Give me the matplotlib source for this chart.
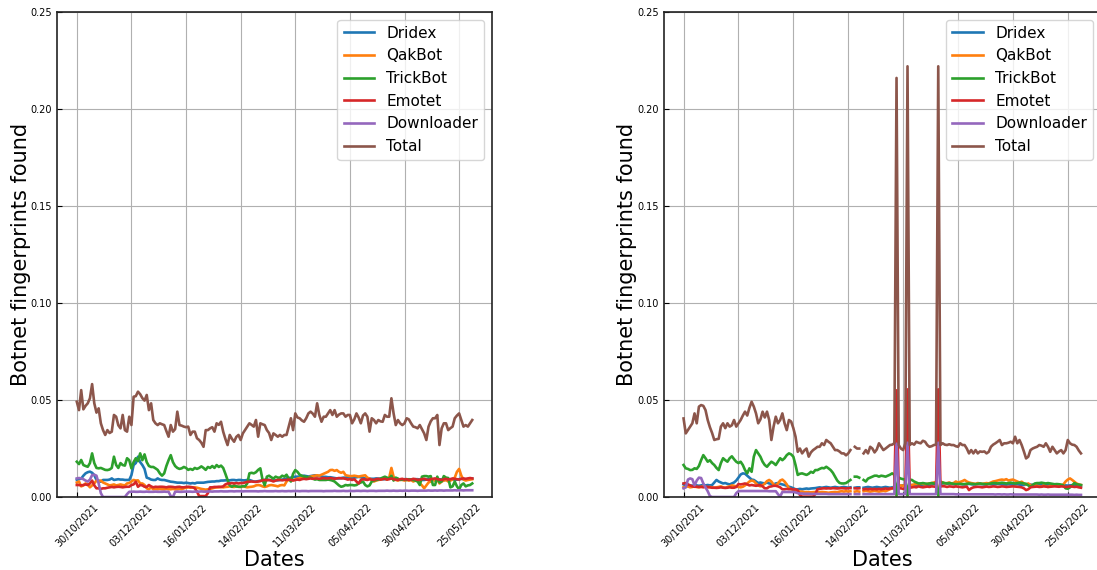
import numpy as np
import matplotlib
matplotlib.use('Agg')
import matplotlib.pyplot as plt

# ── Data: fraction of samples carrying each botnet fingerprint (units of 1e-4) ──
tick_labels = ['30/10/2021', '03/12/2021', '16/01/2022', '14/02/2022',
               '11/03/2022', '05/04/2022', '30/04/2022', '25/05/2022']
names = ['Dridex', 'QakBot', 'TrickBot', 'Emotet', 'Downloader', 'Total']

# left panel
left_dridex = [
    90, 92, 95, 110, 122, 128, 131, 125, 113, 88,
    85, 79, 88, 88, 88, 90, 96, 88, 90, 92,
    90, 90, 88, 88, 88, 113, 165, 175, 208, 180,
    165, 145, 100, 96, 90, 88, 88, 96, 90, 88,
    88, 85, 82, 79, 78, 76, 74, 74, 74, 72,
    74, 72, 70, 72, 70, 74, 74, 74, 74, 76,
    78, 79, 80, 80, 82, 82, 85, 85, 86, 86,
    86, 88, 88, 86, 88, 88, 86, 86, 88, 88,
    84, 80, 80, 82, 84, 86, 88, 90, 88, 86,
    85, 86, 86, 88, 90, 92, 96, 98, 100, 102,
    105, 105, 105, 108, 110, 108, 106, 108, 110, 112,
    110, 108, 106, 104, 104, 102, 102, 100, 98, 96,
    96, 98, 100, 100, 102, 100, 98, 100, 102, 104,
    102, 98, 96, 96, 95, 94, 94, 96, 95, 94,
    92, 92, 94, 95, 96, 94, 92, 92, 90, 90,
    92, 92, 90, 88, 90, 92, 92, 90, 88, 88,
    90, 92, 92, 90, 88, 90, 92, 90, 88, 88,
    90, 92, 90, 88, 90, 92, 94, 92, 90, 92,
    94, 95]
left_qakbot = [
    75, 80, 55, 60, 70, 65, 50, 60, 70, 85,
    80, 85, 75, 70, 65, 60, 62, 65, 60, 62,
    65, 62, 60, 70, 72, 80, 88, 85, 86, 70,
    70, 62, 45, 40, 50, 40, 42, 40, 42, 40,
    40, 42, 40, 40, 42, 40, 40, 42, 40, 45,
    48, 50, 48, 50, 50, 48, 45, 42, 40, 38,
    40, 42, 45, 48, 50, 50, 52, 50, 52, 53,
    55, 53, 52, 55, 53, 52, 55, 53, 50, 52,
    53, 55, 60, 62, 60, 55, 52, 55, 60, 62,
    60, 58, 55, 60, 62, 60, 80, 90, 88, 85,
    90, 95, 98, 100, 98, 100, 102, 105, 108, 110,
    112, 110, 115, 120, 125, 130, 139, 140, 135, 139,
    130, 125, 130, 113, 110, 108, 108, 110, 108, 105,
    108, 110, 112, 100, 95, 88, 80, 85, 88, 90,
    95, 96, 90, 100, 150, 105, 88, 85, 90, 88,
    85, 88, 85, 88, 80, 85, 88, 70, 60, 45,
    60, 75, 80, 88, 85, 90, 70, 80, 85, 88,
    80, 85, 90, 100, 130, 145, 110, 90, 85, 88,
    90, 92]
left_trickbot = [
    182, 170, 191, 165, 160, 156, 175, 225, 175, 150,
    148, 150, 145, 140, 139, 142, 150, 208, 165, 150,
    175, 165, 162, 200, 190, 148, 180, 200, 185, 225,
    190, 220, 180, 160, 155, 155, 148, 140, 122, 110,
    122, 160, 190, 216, 180, 160, 150, 145, 148, 155,
    150, 140, 145, 140, 150, 145, 150, 158, 150, 140,
    155, 150, 160, 150, 165, 155, 162, 150, 120, 88,
    60, 53, 60, 55, 53, 53, 56, 55, 70, 122,
    125, 122, 128, 140, 148, 90, 60, 105, 110, 102,
    95, 105, 100, 100, 110, 105, 115, 95, 80, 120,
    139, 130, 115, 110, 105, 105, 100, 100, 95, 90,
    92, 88, 88, 88, 88, 90, 88, 85, 80, 70,
    60, 53, 56, 62, 60, 62, 62, 60, 62, 70,
    75, 80, 62, 55, 60, 80, 85, 88, 90, 95,
    100, 105, 100, 95, 110, 85, 100, 95, 88, 90,
    90, 88, 92, 90, 88, 85, 80, 62, 105, 108,
    108, 105, 108, 62, 62, 105, 75, 80, 108, 100,
    98, 50, 55, 80, 55, 40, 62, 70, 55, 60,
    62, 70]
left_emotet = [
    62, 62, 60, 62, 65, 62, 70, 85, 60, 45,
    45, 42, 45, 45, 48, 50, 52, 50, 52, 53,
    52, 50, 52, 53, 53, 62, 65, 79, 53, 62,
    60, 53, 52, 62, 55, 50, 53, 52, 53, 53,
    52, 50, 53, 53, 52, 50, 52, 53, 50, 50,
    52, 53, 52, 50, 45, 28, 5, 5, 5, 5,
    20, 50, 50, 52, 52, 53, 52, 55, 65, 70,
    70, 72, 70, 72, 70, 72, 72, 75, 78, 79,
    80, 79, 78, 80, 82, 86, 88, 86, 88, 85,
    80, 85, 88, 88, 86, 88, 88, 90, 88, 86,
    88, 90, 88, 92, 94, 92, 94, 96, 94, 96,
    96, 94, 96, 98, 96, 96, 98, 96, 94, 96,
    98, 96, 96, 94, 90, 92, 88, 92, 80, 70,
    88, 92, 90, 88, 92, 90, 88, 92, 94, 90,
    92, 94, 90, 92, 96, 92, 90, 88, 92, 94,
    90, 92, 88, 90, 94, 92, 88, 90, 92, 94,
    90, 88, 92, 94, 96, 92, 90, 88, 92, 94,
    90, 92, 96, 94, 92, 90, 94, 96, 94, 96,
    98, 96]
left_downloader = [
    96, 98, 96, 92, 85, 80, 90, 113, 115, 110,
    70, 20, 0, 0, 0, 0, 0, 0, 0, 0,
    0, 0, 0, 15, 27, 27, 28, 27, 27, 28,
    27, 27, 28, 27, 27, 27, 28, 27, 27, 27,
    28, 27, 27, 5, 0, 27, 28, 27, 27, 28,
    28, 28, 28, 27, 28, 28, 28, 29, 28, 28,
    29, 29, 28, 29, 29, 29, 30, 29, 29, 29,
    30, 30, 29, 30, 30, 30, 29, 30, 30, 30,
    30, 30, 30, 29, 30, 30, 31, 30, 30, 30,
    30, 31, 30, 30, 31, 30, 30, 31, 30, 31,
    31, 31, 30, 31, 31, 31, 30, 31, 31, 31,
    31, 31, 31, 30, 31, 31, 31, 31, 32, 31,
    31, 31, 32, 31, 31, 32, 31, 31, 32, 32,
    31, 32, 32, 31, 32, 32, 32, 31, 32, 32,
    32, 32, 33, 32, 32, 33, 32, 32, 33, 32,
    33, 33, 32, 33, 33, 33, 32, 33, 33, 33,
    33, 34, 33, 33, 34, 33, 34, 34, 33, 34,
    34, 34, 34, 35, 34, 35, 35, 34, 35, 35,
    35, 35]
left_total = [
    491, 448, 551, 452, 470, 483, 509, 582, 483, 435,
    457, 380, 345, 320, 345, 330, 337, 423, 414, 370,
    354, 423, 345, 337, 414, 371, 517, 520, 543, 530,
    510, 497, 526, 448, 483, 397, 380, 371, 380, 375,
    371, 340, 311, 371, 337, 350, 440, 371, 368, 363,
    360, 363, 320, 337, 337, 303, 294, 280, 259, 345,
    345, 354, 360, 337, 380, 372, 388, 337, 300, 268,
    320, 300, 285, 310, 320, 294, 328, 345, 363, 380,
    372, 363, 397, 311, 380, 375, 371, 345, 330, 294,
    328, 320, 311, 320, 311, 320, 320, 363, 406, 345,
    431, 410, 406, 395, 388, 406, 431, 440, 430, 414,
    483, 423, 388, 414, 414, 431, 448, 423, 448, 414,
    425, 431, 431, 414, 423, 423, 380, 400, 431, 410,
    380, 420, 431, 414, 337, 406, 397, 380, 397, 390,
    388, 423, 414, 414, 509, 431, 371, 397, 380, 371,
    380, 406, 400, 380, 363, 360, 354, 371, 350, 328,
    294, 363, 390, 406, 406, 423, 268, 354, 380, 380,
    345, 355, 363, 406, 420, 431, 397, 363, 371, 363,
    380, 397]

# right panel (None = no sample that day)
right_dridex = [
    65, 60, 62, 60, 58, 62, 60, 58, 60, 62,
    60, 62, 60, 62, 75, 88, 80, 75, 70, 72,
    68, 65, 70, 75, 85, 100, 116, 122, 120, 110,
    100, 90, 88, 80, 72, 75, 72, 70, 75, 70,
    68, 65, 70, 72, 68, 65, 62, 58, 53, 50,
    45, 40, 40, 42, 40, 42, 44, 42, 44, 45,
    46, 48, 50, 48, 50, 52, 50, 48, 50, 52,
    50, 48, 50, 52, 50, 48, 50, None, 48, 50,
    50, None, 48, 50, 52, 50, 48, 50, 52, 50,
    48, 50, 52, 50, 48, 50, 52, 10, 55, 58,
    60, 58, 10, 60, 62, 60, 58, 60, 62, 64,
    62, 60, 62, 65, 68, 66, 10, 68, 70, 70,
    68, 70, 68, 66, 68, 70, 68, 66, 65, 66,
    68, 66, 65, 66, 68, 67, 66, 65, 66, 68,
    66, 65, 66, 68, 67, 66, 65, 64, 66, 65,
    64, 65, 66, 64, 63, 62, 64, 65, 64, 63,
    62, 63, 64, 62, 61, 62, 63, 62, 61, 60,
    61, 62, 60, 61, 60, 59, 60, 61, 60, 60,
    59, 58]
right_qakbot = [
    50, 52, 55, 50, 52, 55, 52, 50, 52, 55,
    53, 50, 52, 50, 48, 50, 52, 55, 50, 48,
    52, 55, 60, 58, 55, 52, 50, 53, 60, 70,
    80, 85, 82, 70, 60, 55, 60, 70, 82, 88,
    80, 65, 60, 70, 85, 90, 80, 65, 45, 40,
    36, 32, 30, 28, 28, 25, 26, 25, 24, 25,
    26, 25, 24, 26, 25, 24, 22, 24, 25, 26,
    25, 28, 30, 28, 30, 28, 30, None, 28, 30,
    28, None, 30, 32, 30, 28, 30, 32, 30, 28,
    30, 32, 30, 35, 40, 45, 50, 10, 55, 60,
    58, 62, 10, 60, 62, 65, 68, 65, 70, 68,
    65, 68, 70, 72, 75, 78, 10, 80, 75, 70,
    72, 75, 70, 72, 80, 75, 78, 82, 88, 80,
    75, 72, 70, 68, 72, 70, 68, 70, 72, 70,
    75, 80, 82, 85, 88, 90, 88, 92, 85, 88,
    90, 85, 80, 75, 79, 70, 65, 70, 62, 60,
    62, 58, 55, 53, 60, 55, 52, 58, 60, 62,
    65, 62, 60, 65, 80, 90, 96, 88, 79, 70,
    65, 62]
right_trickbot = [
    165, 148, 145, 139, 140, 148, 145, 160, 190, 216,
    200, 182, 190, 175, 165, 150, 139, 175, 200, 190,
    182, 200, 210, 195, 182, 175, 182, 165, 139, 122,
    148, 130, 208, 242, 225, 208, 182, 165, 156, 170,
    182, 175, 165, 182, 200, 190, 200, 216, 225, 220,
    208, 165, 114, 120, 122, 118, 114, 120, 130, 125,
    139, 139, 145, 150, 148, 156, 148, 139, 125, 105,
    85, 73, 70, 70, 72, 80, 88, None, 105, 105,
    100, None, 88, 80, 95, 100, 105, 110, 110, 105,
    110, 108, 105, 110, 115, 122, 115, 10, 100, 95,
    92, 90, 10, 90, 88, 80, 75, 70, 70, 72,
    70, 68, 70, 72, 70, 70, 10, 72, 75, 72,
    70, 72, 70, 68, 66, 67, 68, 66, 67, 68,
    70, 68, 67, 66, 68, 70, 68, 67, 66, 68,
    70, 72, 72, 70, 72, 74, 72, 70, 72, 74,
    72, 70, 72, 74, 72, 70, 68, 60, 53, 62,
    70, 72, 72, 74, 72, 70, 72, 70, 68, 66,
    67, 66, 64, 60, 45, 43, 50, 60, 72, 66,
    64, 62]
right_emotet = [
    70, 72, 65, 60, 55, 53, 53, 52, 53, 50,
    53, 52, 50, 48, 48, 47, 48, 50, 48, 47,
    48, 50, 48, 48, 52, 67, 65, 67, 70, 65,
    60, 62, 60, 58, 60, 62, 55, 45, 45, 53,
    55, 58, 58, 55, 50, 40, 40, 42, 40, 42,
    38, 40, 35, 10, 2, 2, 2, 2, 2, 2,
    15, 40, 42, 44, 45, 44, 45, 44, 46, 45,
    44, 45, 46, 45, 44, 45, 46, None, 45, 44,
    45, None, 40, 42, 40, 42, 40, 42, 40, 42,
    40, 42, 44, 42, 44, 45, 44, 550, 44, 45,
    42, 46, 555, 48, 50, 52, 50, 55, 52, 50,
    52, 54, 52, 55, 54, 52, 555, 54, 56, 55,
    52, 55, 54, 52, 55, 53, 52, 50, 52, 54,
    36, 45, 50, 52, 53, 52, 50, 52, 54, 52,
    53, 55, 54, 52, 53, 55, 54, 52, 53, 54,
    55, 54, 53, 52, 50, 45, 36, 40, 50, 52,
    53, 54, 52, 53, 55, 54, 52, 53, 54, 55,
    54, 53, 55, 54, 52, 53, 55, 54, 52, 53,
    50, 48]
right_downloader = [
    45, 50, 90, 96, 92, 60, 85, 100, 98, 70,
    50, 30, 5, 0, 0, 0, 0, 0, 0, 0,
    0, 0, 0, 0, 20, 30, 31, 31, 31, 31,
    31, 31, 31, 31, 31, 31, 31, 31, 31, 30,
    30, 30, 30, 15, 2, 26, 26, 26, 26, 26,
    26, 24, 20, 18, 18, 17, 17, 17, 16, 16,
    16, 16, 16, 16, 16, 16, 15, 15, 15, 15,
    15, 15, 15, 15, 15, 15, 15, None, 15, 15,
    15, None, 15, 15, 15, 15, 15, 15, 15, 15,
    15, 15, 15, 15, 15, 15, 15, 275, 15, 15,
    15, 15, 280, 15, 15, 15, 15, 15, 15, 15,
    15, 15, 15, 15, 15, 15, 280, 15, 15, 15,
    15, 15, 15, 15, 14, 14, 14, 14, 14, 14,
    14, 14, 14, 14, 14, 14, 14, 14, 14, 14,
    14, 14, 13, 14, 14, 13, 14, 13, 13, 14,
    13, 13, 13, 13, 13, 13, 13, 13, 13, 13,
    13, 13, 12, 13, 12, 12, 13, 12, 12, 12,
    12, 12, 12, 12, 12, 12, 12, 12, 11, 12,
    11, 11]
right_total = [
    405, 328, 345, 363, 380, 431, 380, 466, 474, 470,
    448, 397, 360, 330, 294, 298, 300, 363, 380, 355,
    380, 363, 370, 397, 363, 380, 397, 420, 440, 420,
    460, 491, 466, 431, 380, 400, 440, 410, 440, 397,
    294, 363, 414, 380, 397, 431, 380, 345, 397, 389,
    355, 311, 233, 250, 225, 240, 250, 208, 230, 242,
    250, 259, 259, 277, 268, 294, 285, 277, 259, 242,
    242, 235, 225, 225, 215, 225, 242, None, 259, 250,
    250, None, 225, 242, 225, 259, 250, 230, 245, 277,
    259, 242, 250, 259, 268, 270, 277, 2160, 268, 250,
    242, 277, 2220, 268, 277, 270, 285, 280, 277, 290,
    285, 268, 259, 262, 268, 270, 2220, 268, 277, 270,
    268, 272, 268, 268, 262, 259, 277, 268, 268, 250,
    225, 242, 225, 242, 225, 235, 233, 235, 225, 233,
    259, 270, 277, 285, 294, 268, 277, 277, 280, 285,
    277, 311, 277, 294, 268, 235, 199, 208, 242, 250,
    255, 259, 268, 265, 259, 277, 259, 233, 259, 242,
    225, 235, 242, 225, 242, 294, 277, 270, 268, 259,
    240, 225]

left_series = [left_dridex, left_qakbot, left_trickbot, left_emotet,
               left_downloader, left_total]
right_series = [right_dridex, right_qakbot, right_trickbot, right_emotet,
                right_downloader, right_total]

# ── Figure ──
fig = plt.figure(figsize=(10.97, 5.70), dpi=100)
ax_left = fig.add_axes([0.052, 0.128, 0.3965, 0.851])
# right panel runs slightly past the canvas edge
ax_right = fig.add_axes([0.605, 0.128, 0.3985, 0.851])

for ax, series in [(ax_left, left_series), (ax_right, right_series)]:
    for name, vals in zip(names, series):
        y = np.array(vals, dtype=float) / 1e4
        ax.plot(np.arange(len(y)), y, linewidth=1.9, label=name)
    n = len(series[0])
    ax.set_xticks(np.arange(0, n, 25))
    ax.set_xticklabels(tick_labels, rotation=45, fontsize=7)
    ax.set_ylim(0, 0.25)
    ax.set_yticks([0.0, 0.05, 0.10, 0.15, 0.20, 0.25])
    ax.tick_params(axis='both', direction='in', labelsize=7)
    ax.grid(True)
    for sp in ax.spines.values():
        sp.set_linewidth(1.2)
        sp.set_color('#222222')
    ax.set_xlabel('Dates', fontsize=15, labelpad=1)
    ax.set_ylabel('Botnet fingerprints found', fontsize=15, labelpad=0)
    ax.legend(loc='upper right', fontsize=11)

fig.savefig('out.png', dpi=100)
plt.close(fig)
